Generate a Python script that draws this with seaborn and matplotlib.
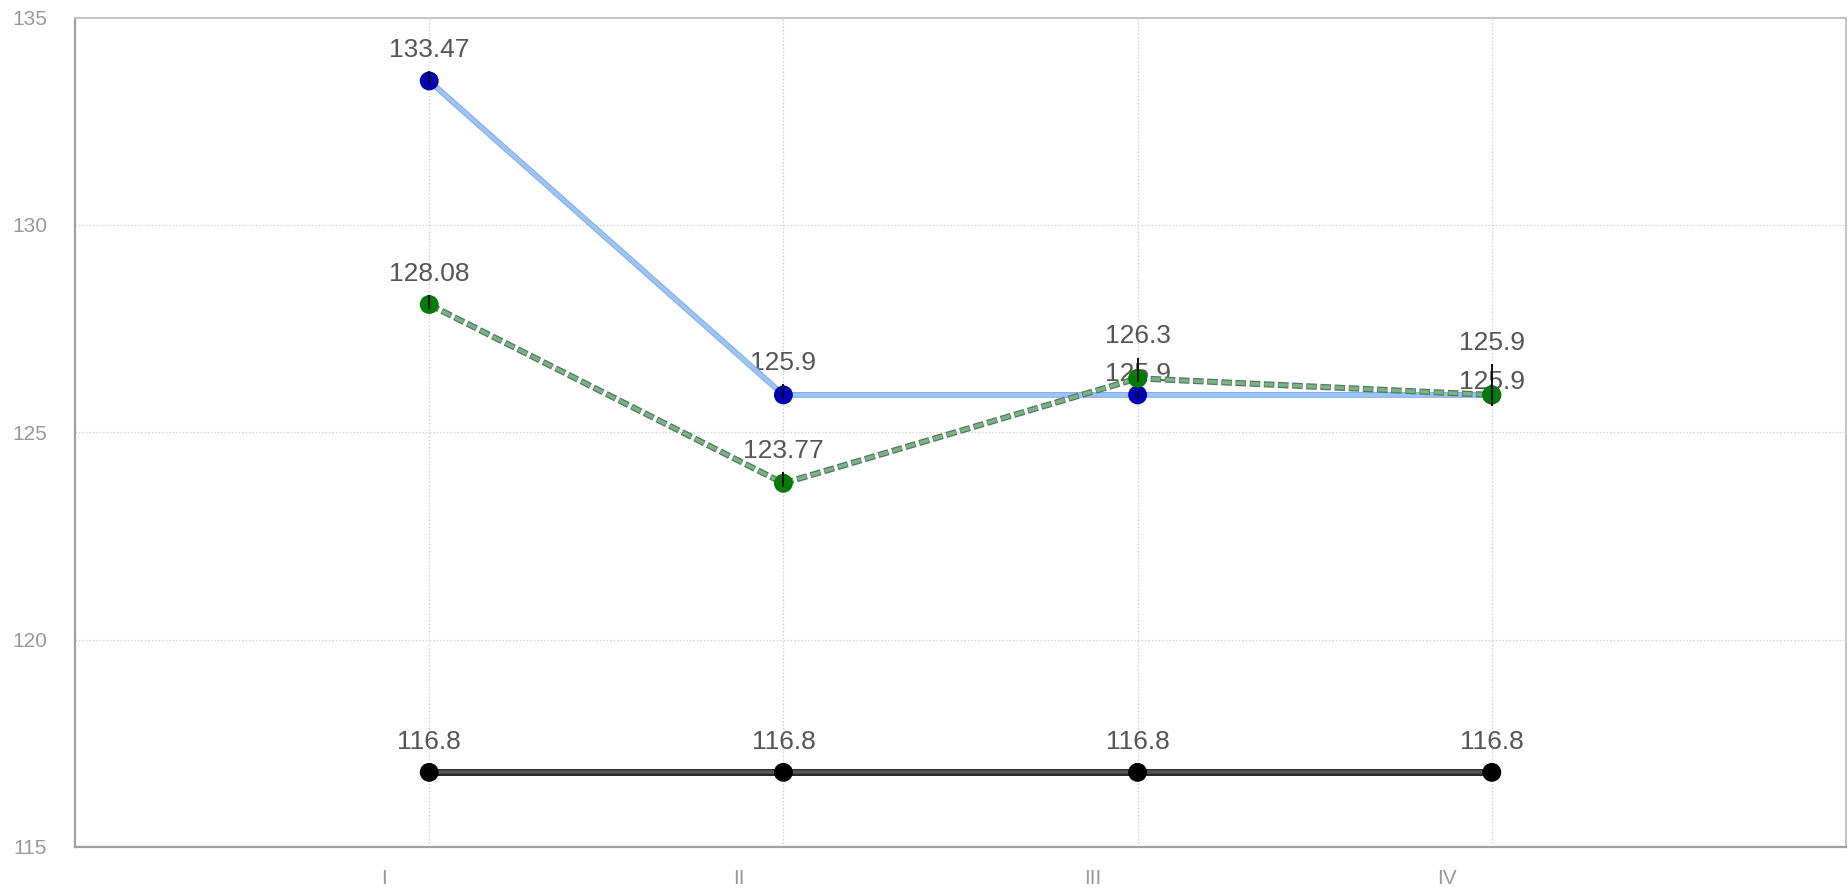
import pandas as pd
import seaborn as sns
import matplotlib.pyplot as plt
from matplotlib.transforms import ScaledTranslation

# --- data ---
categories = ['I', 'II', 'III', 'IV']
series_names = ['Blue', 'Green', 'Black']
blue_values = [133.47, 125.9, 125.9, 125.9]
green_values = [128.08, 123.77, 126.3, 125.9]
black_values = [116.8, 116.8, 116.8, 116.8]
# small asymmetric error bars (low, high)
blue_err_low = [0.1, 0.1, 0.1, 0.1]
blue_err_high = [0.25, 0.27, 0.1, 0.1]
green_err_low = [0.1, 0.1, 0.1, 0.27]
green_err_high = [0.22, 0.27, 0.5, 0.75]
black_err_low = [0.1, 0.1, 0.1, 0.1]
black_err_high = [0.2, 0.2, 0.2, 0.2]
y_ticks = [115, 120, 125, 130, 135]

values = {'Blue': blue_values, 'Green': green_values, 'Black': black_values}
err_low = {'Blue': blue_err_low, 'Green': green_err_low, 'Black': black_err_low}
err_high = {'Blue': blue_err_high, 'Green': green_err_high, 'Black': black_err_high}

rows = []
for s in series_names:
    for i, c in enumerate(categories):
        rows.append({'Category': c, 'Series': s, 'Value': values[s][i],
                     'Low': err_low[s][i], 'High': err_high[s][i]})
df = pd.DataFrame(rows)

# --- style ---
sns.set_theme(style="white")
plt.rcParams['font.family'] = ['Liberation Sans', 'DejaVu Sans']
plt.rcParams['lines.scale_dashes'] = False

fig = plt.figure(figsize=(18.49, 8.9), dpi=100)
ax = fig.add_axes([75 / 1849, 43 / 890, (1846 - 75) / 1849, (847 - 17.5) / 890])

marker_colors = {'Blue': '#0000b4', 'Green': '#007c00', 'Black': '#000000'}

# black line (dark edge + grey core)
d = df[df['Series'] == 'Black']
sns.lineplot(data=d, x='Category', y='Value', color='#262626', linewidth=5.0,
             ax=ax, sort=False, zorder=3)
sns.lineplot(data=d, x='Category', y='Value', color='#555555', linewidth=2.6,
             ax=ax, sort=False, zorder=3.1)

# blue line
d = df[df['Series'] == 'Blue']
sns.lineplot(data=d, x='Category', y='Value', color='#86b0ea', linewidth=4.2,
             ax=ax, sort=False, zorder=4)
sns.lineplot(data=d, x='Category', y='Value', color='#9cc4f6', linewidth=2.6,
             ax=ax, sort=False, zorder=4.1)

# green dashed line
d = df[df['Series'] == 'Green']
sns.lineplot(data=d, x='Category', y='Value', color='#4d7d58', linewidth=4.4,
             ax=ax, sort=False, zorder=5)
sns.lineplot(data=d, x='Category', y='Value', color='#7cb087', linewidth=2.6,
             ax=ax, sort=False, zorder=5.1)
ax.lines[-2].set_linestyle((0, (7.6, 2.6)))
ax.lines[-1].set_linestyle((-0.5, (6.6, 3.6)))

# markers
for s, z in [('Black', 6), ('Blue', 6.5), ('Green', 7)]:
    d = df[df['Series'] == s]
    sns.scatterplot(data=d, x='Category', y='Value', color=marker_colors[s],
                    s=185, edgecolor='none', ax=ax, zorder=z)

# error bars (thin black vertical lines)
for s in series_names:
    d = df[df['Series'] == s]
    xs = [categories.index(c) for c in d['Category']]
    ax.errorbar(xs, d['Value'], yerr=[d['Low'], d['High']], fmt='none',
                ecolor='black', elinewidth=1.3, capsize=0, zorder=8)

# value labels, pixels above the top of the error bar
label_offsets = {'Blue': [21, 21, 17, 9], 'Green': [21, 21, 22, 21],
                 'Black': [22, 22, 22, 22]}
for s in series_names:
    for i in range(len(categories)):
        v = values[s][i]
        ax.annotate(f'{v:g}', (i, v + err_high[s][i]),
                    xytext=(0, label_offsets[s][i]), textcoords='offset pixels',
                    ha='center', va='center', fontsize=19, color='#555555',
                    zorder=2)

# axes
ax.set_xlim(-1, 4)
ax.set_ylim(115, 135)
ax.set_xlabel('')
ax.set_ylabel('')
ax.set_yticks(y_ticks)
ax.set_xticks([-1, 0, 1, 2, 3, 4])
ax.set_xticklabels([''] + categories + [''])

ax.tick_params(axis='both', which='major', colors='#999999', labelcolor='#999999',
               labelsize=15, width=1.5, length=8, direction='out')
ax.tick_params(axis='x', pad=8)
ax.tick_params(axis='y', pad=12)
shift = ScaledTranslation(-45 / 100, 0, fig.dpi_scale_trans)
for lab in ax.get_xticklabels():
    lab.set_transform(lab.get_transform() + shift)

for x in range(len(categories)):
    ax.axvline(x, color='#cccccc', linestyle=(0, (1, 1.5)), linewidth=0.9, zorder=0)
for y in y_ticks[1:-1]:
    ax.axhline(y, color='#cccccc', linestyle=(0, (1, 1.5)), linewidth=0.9, zorder=0)

for side in ['left', 'bottom']:
    ax.spines[side].set_color('#a0a0a0')
    ax.spines[side].set_linewidth(1.6)
for side in ['top', 'right']:
    ax.spines[side].set_color('#c4c4c4')
    ax.spines[side].set_linewidth(1.4)

fig.savefig('out.png', dpi=100)
